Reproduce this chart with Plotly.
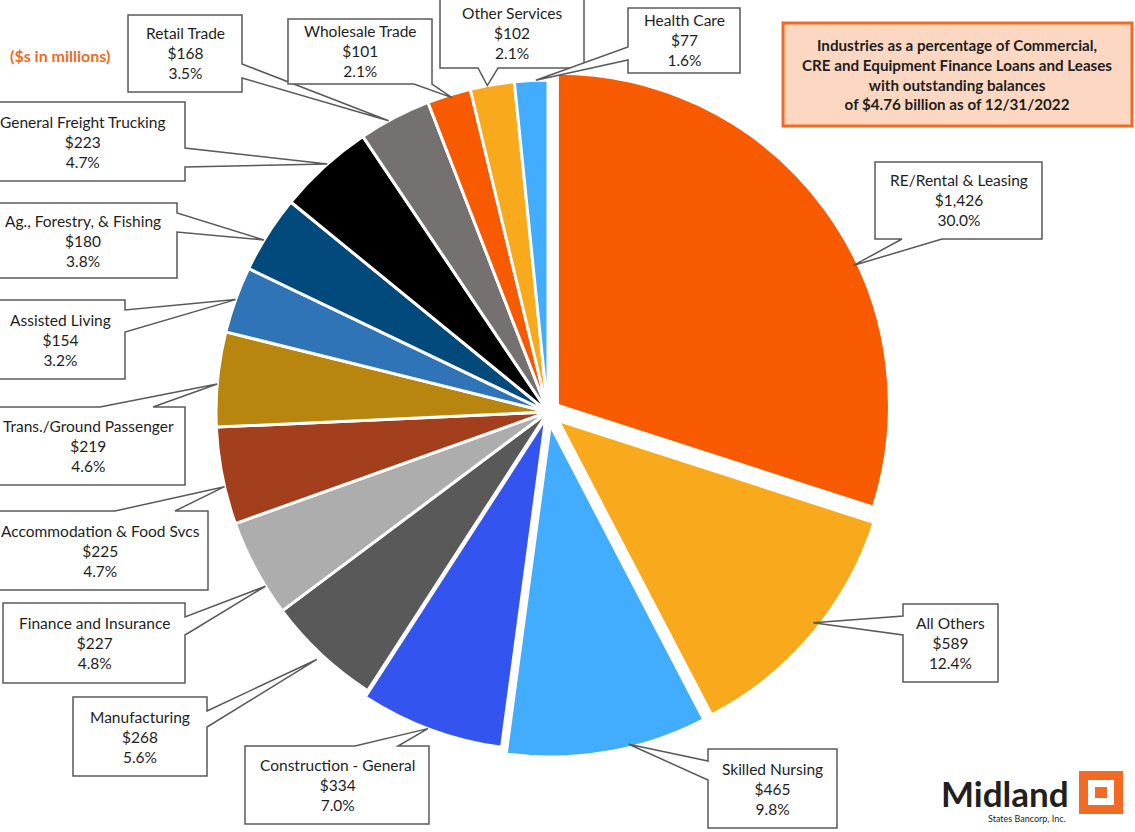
import math
import plotly.graph_objects as go

W, H = 1135, 832

# ---------------- data ----------------
industries = ["RE/Rental & Leasing", "All Others", "Skilled Nursing", "Construction - General",
              "Manufacturing", "Finance and Insurance", "Accommodation & Food Svcs",
              "Trans./Ground Passenger", "Assisted Living", "Ag., Forestry, & Fishing",
              "General Freight Trucking", "Retail Trade", "Wholesale Trade", "Other Services",
              "Health Care"]
balances = [1426, 589, 465, 334, 268, 227, 225, 219, 154, 180, 223, 168, 101, 102, 77]
pct_labels = ["30.0%", "12.4%", "9.8%", "7.0%", "5.6%", "4.8%", "4.7%", "4.6%", "3.2%",
              "3.8%", "4.7%", "3.5%", "2.1%", "2.1%", "1.6%"]
dollar_labels = ["$1,426", "$589", "$465", "$334", "$268", "$227", "$225", "$219", "$154",
                 "$180", "$223", "$168", "$101", "$102", "$77"]

# ---------------- style ----------------
colors = ["#F85A00", "#F9A91C", "#42ADFF", "#3354EE", "#595959", "#ADADAD", "#A33F1D",
          "#B8860F", "#2E74B7", "#034A7C", "#000000", "#767171", "#F85A00", "#F9A91C", "#42ADFF"]
pulls = [0.035, 0.04, 0.04, 0.02, 0, 0, 0, 0, 0, 0, 0, 0, 0, 0, 0]

CX, CY, R = 548.0, 412.0, 332.0   # pie centre / radius in px
maxpull = max(pulls)
half = R * (1 + maxpull)
dom_x = [(CX - half) / W, (CX + half) / W]
dom_y = [1 - (CY + half) / H, 1 - (CY - half) / H]

# callout layout: box (x0,y0,x1,y1) px, side, base positions, tip fraction along slice, radial factor
callouts = {
    "RE/Rental & Leasing": ((875, 162, 1042, 239), "bottom", (902, 942), 0.60, 0.985),
    "All Others": ((903, 604, 998, 682), "left", (616, 635), 0.46, 0.98),
    "Skilled Nursing": ((708, 749, 837, 828), "left", (761, 780), 0.39, 0.99),
    "Construction - General": ((245, 746, 429, 824), "top", (355, 398), 0.52, 1.0),
    "Manufacturing": ((73, 697, 207, 776), "right", (711, 727), 0.50, 1.02),
    "Finance and Insurance": ((3, 603, 185, 683), "right", (617, 635), 0.30, 1.0),
    "Accommodation & Food Svcs": ((-8, 511, 208, 590), "top", (115, 175), 0.39, 1.0),
    "Trans./Ground Passenger": ((-9, 407, 185, 485), "top", (100, 153), 0.45, 1.0),
    "Assisted Living": ((-5, 300, 125, 379), "right", (310, 332), 0.50, 1.0),
    "Ag., Forestry, & Fishing": ((-11, 203, 177, 278), "right", (213, 232), 0.41, 1.0),
    "General Freight Trucking": ((-19, 102, 185, 181), "right", (148, 167), 0.54, 1.0),
    "Retail Trade": ((128, 15, 242, 92), "right", (64, 78), 0.41, 1.0),
    "Wholesale Trade": ((288, 19, 432, 84), "bottom", (414, 432), 0.55, 0.99),
    "Other Services": ((440, -2, 584, 68), "bottom", (478, 498), 0.39, 1.0),
    "Health Care": ((628, 8, 740, 73), "left", (47, 60), 0.64, 1.0),
}

fig = go.Figure()
fig.add_trace(go.Pie(
    labels=industries, values=balances, sort=False, direction="clockwise", rotation=0,
    marker=dict(colors=colors, line=dict(color="white", width=3)),
    pull=pulls, textinfo="none", hoverinfo="label+value+percent", showlegend=False,
    domain=dict(x=dom_x, y=dom_y),
))


def p2x(x):
    return x / W


def p2y(y):
    return 1 - y / H


TXT = "#1E1E1E"
shapes = []
annotations = []
total = sum(balances)
cum = 0.0
for name, val, dl, pl, pu in zip(industries, balances, dollar_labels, pct_labels, pulls):
    start = cum / total * 360
    span = val / total * 360
    cum += val
    mid = math.radians(start + span / 2)
    pcx = CX + pu * R * math.sin(mid)
    pcy = CY - pu * R * math.cos(mid)
    (x0, y0, x1, y1), side, (b0, b1), frac, rf = callouts[name]
    th = math.radians(start + frac * span)
    tx = pcx + rf * R * math.sin(th)
    ty = pcy - rf * R * math.cos(th)
    pts = [(x0, y0)]
    if side == "top":
        pts += [(b0, y0), (tx, ty), (b1, y0)]
    pts.append((x1, y0))
    if side == "right":
        pts += [(x1, b0), (tx, ty), (x1, b1)]
    pts.append((x1, y1))
    if side == "bottom":
        pts += [(b1, y1), (tx, ty), (b0, y1)]
    pts.append((x0, y1))
    if side == "left":
        pts += [(x0, b1), (tx, ty), (x0, b0)]
    path = "M " + " L ".join(f"{p2x(px):.5f},{p2y(py):.5f}" for px, py in pts) + " Z"
    shapes.append(dict(type="path", xref="paper", yref="paper", path=path,
                       fillcolor="white", line=dict(color="#595959", width=1.5), layer="above"))
    annotations.append(dict(x=p2x((x0 + x1) / 2), y=p2y((y0 + y1) / 2), xref="paper", yref="paper",
                            text=f"{name}<br>{dl}<br>{pl}", showarrow=False, xanchor="center",
                            yanchor="middle", align="center",
                            font=dict(family="Lato", size=15.5, color=TXT)))

# title box
shapes.append(dict(type="rect", xref="paper", yref="paper", x0=p2x(783), x1=p2x(1132),
                   y0=p2y(126), y1=p2y(23), fillcolor="#FCD8C3",
                   line=dict(color="#F26A24", width=3), layer="above"))
annotations.append(dict(x=p2x(957), y=p2y(74), xref="paper", yref="paper", showarrow=False,
                        xanchor="center", yanchor="middle", align="center",
                        text="<b>Industries as a percentage of Commercial,<br>CRE and Equipment Finance Loans and Leases<br>"
                             "with outstanding balances<br>of $4.76 billion as of 12/31/2022</b>",
                        font=dict(family="Lato", size=15.2, color=TXT)))
annotations.append(dict(x=p2x(60), y=p2y(55), xref="paper", yref="paper", showarrow=False,
                        xanchor="center", yanchor="middle", text="<b>($s in millions)</b>",
                        font=dict(family="Lato", size=16, color="#F26A24")))

# logo
annotations.append(dict(x=p2x(1071), y=p2y(793), xref="paper", yref="paper", showarrow=False,
                        xanchor="right", yanchor="middle", text="<b>Midland</b>",
                        font=dict(family="Lato", size=35, color="#231F20")))
annotations.append(dict(x=p2x(1068), y=p2y(818), xref="paper", yref="paper", showarrow=False,
                        xanchor="right", yanchor="middle", text="States Bancorp, Inc.",
                        font=dict(family="Lato", size=9, color="#231F20")))
for (a0, b0_, a1, b1_, c) in [(1079, 771, 1123, 814, "#F26A24"), (1088, 780, 1114, 805, "white"),
                              (1095, 787, 1107, 798, "#F26A24")]:
    shapes.append(dict(type="rect", xref="paper", yref="paper", x0=p2x(a0), x1=p2x(a1),
                       y0=p2y(b1_), y1=p2y(b0_), fillcolor=c, line=dict(width=0), layer="above"))

fig.update_layout(width=W, height=H, margin=dict(l=0, r=0, t=0, b=0),
                  paper_bgcolor="white", plot_bgcolor="white",
                  shapes=shapes, annotations=annotations)
fig.write_html("out.html", config={"displayModeBar": False},
               post_script="document.body.style.margin='0px';document.body.style.overflow='hidden';")
